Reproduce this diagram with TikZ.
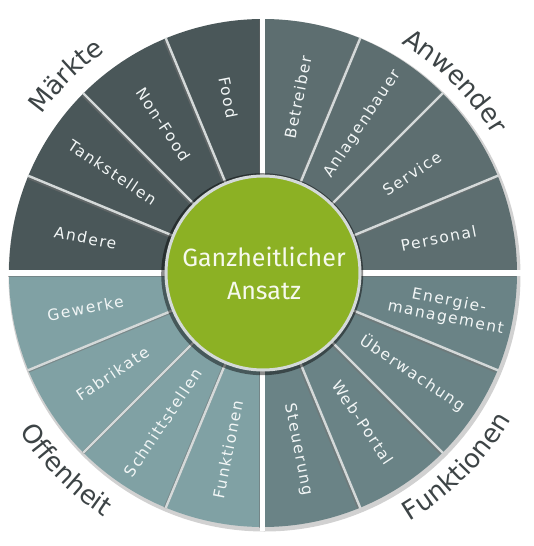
\documentclass[tikz,border=0pt]{standalone}
\usepackage{fontspec}
\setmainfont{DejaVu Sans}
\newfontfamily\segfont{DejaVu Sans}[LetterSpace=10]
\newfontfamily\ctrfont{Fira Sans}
\newfontfamily\outfont{DejaVu Sans}[LetterSpace=10]
\usetikzlibrary{decorations.text}
\definecolor{cMkt}{HTML}{4A5759}
\definecolor{cAnw}{HTML}{5D6E70}
\definecolor{cFkt}{HTML}{6A8386}
\definecolor{cOff}{HTML}{80A1A4}
\definecolor{cGreen}{HTML}{8CB124}
\definecolor{cSep}{HTML}{D4D9D9}
\definecolor{cOut}{HTML}{3D4446}
\definecolor{cSegText}{HTML}{F2F6F6}
\tikzset{
  wedgefill/.style={fill=#1},
  sepshadow/.style={draw=black!55, line width=3.2pt, opacity=0.55, shift={(-1,-1.2)}},
  sepline/.style={draw=cSep, line width=2.4pt},
  quadshadow/.style={draw=black!60, line width=5pt, opacity=0.45, shift={(-1.2,-1.4)}},
  quadline/.style={draw=white, line width=5pt},
  seglabel/.style={text=cSegText, font=\segfont\fontsize{15.5}{17}\selectfont, inner sep=0pt},
  ctrlabel/.style={text=white!92!cGreen, font=\ctrfont\fontsize{25}{33}\selectfont, align=center, inner sep=0pt},
}
\newcommand{\outertext}[4]{% #1 start, #2 end, #3 radius, #4 text
  \path[decorate, decoration={text along path, text align=center,
    text={|\outfont\fontsize{26}{26}\selectfont\color{cOut}|#4}}]
    (#1:#3) arc[start angle=#1, end angle=#2, radius=#3];
}
\begin{document}
\begin{tikzpicture}[x=1pt,y=1pt]
\useasboundingbox (-263,-273) rectangle (270,273);
\fill[white] (-263,-273) rectangle (270,273);
% outer soft shadow
\fill[black, opacity=0.18] (1.5,-2.5) circle (256);
% wedges
\foreach \a/\col in {0/cAnw,22.5/cAnw,45/cAnw,67.5/cAnw,
                     90/cMkt,112.5/cMkt,135/cMkt,157.5/cMkt,
                     180/cOff,202.5/cOff,225/cOff,247.5/cOff,
                     270/cFkt,292.5/cFkt,315/cFkt,337.5/cFkt}
{
  \pgfmathsetmacro\b{\a+22.5}
  \fill[wedgefill=\col] (\a:97) arc[start angle=\a, end angle=\b, radius=97]
     -- (\b:254) arc[start angle=\b, end angle=\a, radius=254] -- cycle;
}
% separators between segments
\foreach \a in {22.5,45,67.5,112.5,135,157.5,202.5,225,247.5,292.5,315,337.5}
{
  \draw[sepshadow] (\a:98) -- (\a:253);
  \draw[sepline] (\a:97) -- (\a:254.5);
}
% quadrant gaps
\foreach \a in {0,90,180,270}
{
  \draw[quadshadow] (\a:98) -- (\a:254);
  \draw[quadline] (\a:90) -- (\a:258);
}
% centre circle
\fill[black, opacity=0.45] (-0.8,-1.2) circle (101);
\node[circle, fill=cGreen, draw=cSep, line width=3pt, minimum size=194pt, inner sep=0pt] (core) at (0,0) {};
\node[ctrlabel] (ctr) at (1,0) {Ganzheitlicher\\Ansatz};
% segment labels
\node[seglabel, rotate=11.25]  (personal) at (11.25:179) {Personal};
\node[seglabel, rotate=33.75]  (service)  at (33.75:179) {Service};
\node[seglabel, rotate=56.25]  (anlagen)  at (56.25:179) {Anlagenbauer};
\node[seglabel, rotate=78.75]  (betreib)  at (78.75:179) {Betreiber};
\node[seglabel, rotate=-78.75] (food)     at (101.25:179) {Food};
\node[seglabel, rotate=-56.25] (nonfood)  at (123.75:179) {Non-Food};
\node[seglabel, rotate=-33.75] (tank)     at (146.25:181) {Tankstellen};
\node[seglabel, rotate=-11.25] (andere)   at (168.75:181) {Andere};
\node[seglabel, rotate=11.25]  (gewerke)  at (191.25:181) {Gewerke};
\node[seglabel, rotate=33.75]  (fabrik)   at (213.75:181) {Fabrikate};
\node[seglabel, rotate=56.25]  (schnitt)  at (236.25:180) {Schnittstellen};
\node[seglabel, rotate=78.75]  (funkt)    at (258.75:180) {Funktionen};
\node[seglabel, rotate=-78.75] (steuer)   at (281.25:180) {Steuerung};
\node[seglabel, rotate=-56.25] (webportal) at (303.75:180) {Web-Portal};
\node[seglabel, rotate=-33.75] (ueberw)   at (326.25:180) {Überwachung};
\node[seglabel, rotate=-11.25, align=center] (energie) at (348.75:188) {Energie-\\management};
% outer category labels
\outertext{170}{100}{272}{Märkte}
\outertext{80}{10}{268}{Anwender}
\outertext{190}{260}{291}{Offenheit}
\outertext{280}{350}{288}{Funktionen}
\end{tikzpicture}
\end{document}
